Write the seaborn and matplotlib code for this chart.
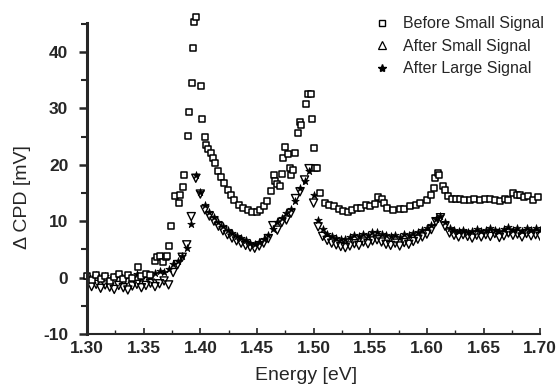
import matplotlib
matplotlib.use("Agg")
import matplotlib.pyplot as plt
from matplotlib.lines import Line2D
from matplotlib.ticker import MultipleLocator, FormatStrFormatter
import seaborn as sns

# Before Small Signal (squares)
before_energy = [
    1.300, 1.304, 1.308, 1.312, 1.316, 1.320, 1.324, 1.328, 1.332, 1.336,
    1.340, 1.345, 1.348, 1.352, 1.356, 1.360, 1.362, 1.364, 1.367, 1.370,
    1.371, 1.372, 1.374, 1.378, 1.381, 1.382, 1.385, 1.386, 1.389, 1.390,
    1.3927, 1.3936, 1.3945, 1.3963, 1.4007, 1.4016, 1.404, 1.405, 1.407, 1.409,
    1.411, 1.413, 1.416, 1.418, 1.421, 1.424, 1.427, 1.430, 1.434, 1.438,
    1.442, 1.446, 1.450, 1.453, 1.456, 1.459, 1.462, 1.465, 1.466, 1.468,
    1.470, 1.472, 1.473, 1.475, 1.477, 1.479, 1.480, 1.482, 1.484, 1.486,
    1.488, 1.489, 1.493, 1.495, 1.498, 1.499, 1.500, 1.501, 1.503, 1.506,
    1.510, 1.514, 1.518, 1.522, 1.526, 1.530, 1.534, 1.538, 1.542, 1.546,
    1.550, 1.554, 1.557, 1.560, 1.562, 1.565, 1.570, 1.576, 1.580, 1.585,
    1.590, 1.594, 1.600, 1.604, 1.606, 1.607, 1.610, 1.611, 1.614, 1.616,
    1.619, 1.622, 1.626, 1.629, 1.633, 1.638, 1.642, 1.647, 1.651, 1.656,
    1.660, 1.665, 1.669, 1.672, 1.676, 1.680, 1.682, 1.686, 1.689, 1.694,
    1.698,
]
before_cpd = [
    0.2, -0.4, 0.5, -0.2, 0.3, -0.6, 0.1, 0.6, -0.3, 0.4,
    -0.1, 1.8, 0.2, 0.7, 0.4, 2.9, 3.7, 3.9, 2.7, 3.7,
    3.9, 5.6, 9.2, 14.5, 13.2, 14.7, 16.1, 18.2, 25.1, 29.4,
    34.5, 40.7, 45.3, 46.2, 34.0, 28.1, 25.0, 23.5, 22.8, 22.1,
    21.2, 20.3, 18.8, 17.9, 16.8, 15.6, 14.6, 13.8, 12.9, 12.4,
    12.0, 11.7, 11.6, 11.9, 12.6, 13.5, 15.4, 18.2, 17.2, 16.5,
    16.3, 18.4, 21.2, 23.2, 21.9, 19.5, 18.2, 19.1, 22.1, 25.7,
    27.6, 27.1, 30.8, 32.6, 32.6, 28.1, 23.0, 19.4, 19.5, 15.0,
    13.2, 12.8, 12.6, 12.2, 11.8, 11.7, 11.9, 12.3, 12.4, 12.8,
    12.6, 13.1, 14.2, 14.0, 13.2, 12.4, 12.0, 12.2, 12.1, 12.6,
    12.9, 13.3, 13.8, 14.7, 15.9, 17.7, 18.6, 18.1, 16.3, 15.6,
    14.5, 14.0, 13.9, 14.0, 13.8, 13.8, 14.0, 13.8, 13.9, 14.0,
    13.7, 13.6, 13.9, 13.8, 14.9, 14.6, 14.7, 14.3, 14.5, 13.8,
    14.2,
]

# After Small Signal (triangles) and After Large Signal (stars)
energy = [
    1.300, 1.304, 1.308, 1.312, 1.316, 1.320, 1.324, 1.328, 1.332, 1.336,
    1.340, 1.344, 1.348, 1.352, 1.356, 1.360, 1.364, 1.368, 1.372, 1.376,
    1.380, 1.384, 1.388, 1.392, 1.396, 1.400, 1.404, 1.408, 1.412, 1.416,
    1.420, 1.424, 1.428, 1.432, 1.436, 1.440, 1.444, 1.448, 1.452, 1.456,
    1.460, 1.464, 1.468, 1.472, 1.476, 1.480, 1.484, 1.488, 1.492, 1.496,
    1.500, 1.504, 1.508, 1.512, 1.516, 1.520, 1.524, 1.528, 1.532, 1.536,
    1.540, 1.544, 1.548, 1.552, 1.556, 1.560, 1.564, 1.568, 1.572, 1.576,
    1.580, 1.584, 1.588, 1.592, 1.596, 1.600, 1.604, 1.608, 1.612, 1.616,
    1.620, 1.624, 1.628, 1.632, 1.636, 1.640, 1.644, 1.648, 1.652, 1.656,
    1.660, 1.664, 1.668, 1.672, 1.676, 1.680, 1.684, 1.688, 1.692, 1.696,
    1.700,
]
after_small_cpd = [
    -1.0, -1.6, -1.2, -1.9, -1.3, -1.7, -2.1, -1.4, -1.8, -2.2,
    -1.5, -1.2, -1.8, -1.4, -1.0, -1.6, -1.1, -0.6, -1.3, 0.9,
    2.3, 3.6, 5.8, 10.8, 17.6, 14.8, 12.0, 10.9, 10.0, 9.1,
    8.3, 7.6, 7.0, 6.5, 6.1, 5.7, 5.4, 5.2, 5.6, 6.1,
    6.9, 9.2, 8.4, 9.8, 10.2, 11.4, 14.0, 15.2, 17.3, 19.3,
    13.2, 9.0, 7.3, 6.6, 6.1, 5.8, 5.5, 5.3, 5.6, 6.0,
    5.7, 6.3, 6.0, 6.5, 6.7, 6.3, 5.9, 5.7, 6.1, 5.6,
    6.2, 5.9, 6.4, 6.8, 7.2, 7.7, 8.5, 9.9, 10.6, 9.1,
    7.9, 7.5, 7.2, 7.6, 7.3, 7.0, 7.5, 7.2, 7.6, 7.3,
    7.8, 7.1, 7.4, 7.9, 7.5, 7.7, 7.2, 7.8, 7.4, 7.6,
    7.3,
]
after_large_cpd = [
    0.2, -0.3, 0.4, -0.1, 0.3, -0.4, 0.1, 0.5, -0.2, 0.2,
    -0.1, 0.6, 0.0, 0.4, 0.1, 0.8, 1.2, 0.9, 1.6, 2.4,
    3.0, 3.8, 5.2, 9.5, 18.2, 15.2, 12.8, 11.6, 10.7, 9.9,
    9.1, 8.4, 7.9, 7.4, 7.0, 6.6, 6.2, 6.0, 6.3, 6.9,
    7.6, 8.6, 9.8, 10.6, 11.4, 12.2, 13.5, 15.8, 17.2, 18.9,
    14.6, 10.2, 8.6, 7.8, 7.3, 7.0, 6.8, 6.9, 7.2, 7.5,
    7.4, 7.8, 7.6, 8.0, 8.1, 7.7, 7.5, 7.3, 7.6, 7.2,
    7.7, 7.5, 7.9, 8.1, 8.4, 8.8, 9.4, 10.4, 11.0, 9.8,
    8.7, 8.4, 8.2, 8.5, 8.1, 8.3, 8.6, 8.2, 8.5, 8.8,
    8.4, 8.2, 8.6, 8.9, 8.5, 8.7, 8.3, 8.8, 8.5, 8.7,
    8.4,
]

labels = ["Before Small Signal", "After Small Signal", "After Large Signal"]
x_ticks = [1.30, 1.35, 1.40, 1.45, 1.50, 1.55, 1.60, 1.65, 1.70]
y_ticks = [-10, 0, 10, 20, 30, 40]

sns.set_style("ticks")
plt.rcParams['font.family'] = ['Liberation Sans', 'DejaVu Sans']
plt.rcParams['axes.unicode_minus'] = False

fig = plt.figure(figsize=(5.58, 3.85), dpi=100)
ax = fig.add_axes([0.156, 0.1325, 0.812, 0.8075])

sns.scatterplot(x=energy, y=after_small_cpd, marker='v', s=34,
                facecolor='none', edgecolor='black', linewidth=1.0, ax=ax)
sns.scatterplot(x=energy, y=after_large_cpd, marker='*', s=32,
                color='black', edgecolor='black', linewidth=0.5, ax=ax)
sns.scatterplot(x=before_energy, y=before_cpd, marker='s', s=24,
                facecolor='white', edgecolor='black', linewidth=1.1,
                clip_on=False, ax=ax)

ax.set_xlim(1.30, 1.70)
ax.set_ylim(-10, 45.1)
ax.set_xticks(x_ticks)
ax.set_yticks(y_ticks)
ax.xaxis.set_minor_locator(MultipleLocator(0.025))
ax.yaxis.set_minor_locator(MultipleLocator(5))
ax.xaxis.set_major_formatter(FormatStrFormatter('%.2f'))

sns.despine(ax=ax)
ax.spines['left'].set_linewidth(2.2)
ax.spines['bottom'].set_linewidth(1.5)

ax.tick_params(axis='x', which='major', direction='in', length=4, width=1.2,
               pad=5, labelsize=12.5)
ax.tick_params(axis='x', which='minor', direction='in', length=3, width=1.0)
ax.tick_params(axis='y', which='major', direction='out', length=6, width=1.8,
               pad=7.5, labelsize=12.5)
ax.tick_params(axis='y', which='minor', direction='out', length=4, width=1.5)
for lab in ax.get_xticklabels() + ax.get_yticklabels():
    lab.set_fontweight('bold')

ax.set_xlabel("Energy [eV]", fontsize=14)
ax.set_ylabel("\u0394 CPD [mV]", fontsize=14)
ax.xaxis.set_label_coords(0.483, -0.105)
ax.yaxis.set_label_coords(-0.124, 0.44)

handles = [
    Line2D([], [], ls='none', marker='s', ms=4.5, mfc='none', mec='black', mew=1.0),
    Line2D([], [], ls='none', marker='^', ms=5.5, mfc='none', mec='black', mew=0.9),
    Line2D([], [], ls='none', marker='*', ms=6, mfc='black', mec='black'),
]
ax.legend(handles, labels, loc='upper left', bbox_to_anchor=(0.656, 0.983),
          bbox_transform=fig.transFigure, frameon=False,
          prop={'size': 11.5},
          handlelength=0.8, handletextpad=0.9, labelspacing=0.47,
          borderaxespad=0.2)

fig.savefig("out.png", dpi=100)
